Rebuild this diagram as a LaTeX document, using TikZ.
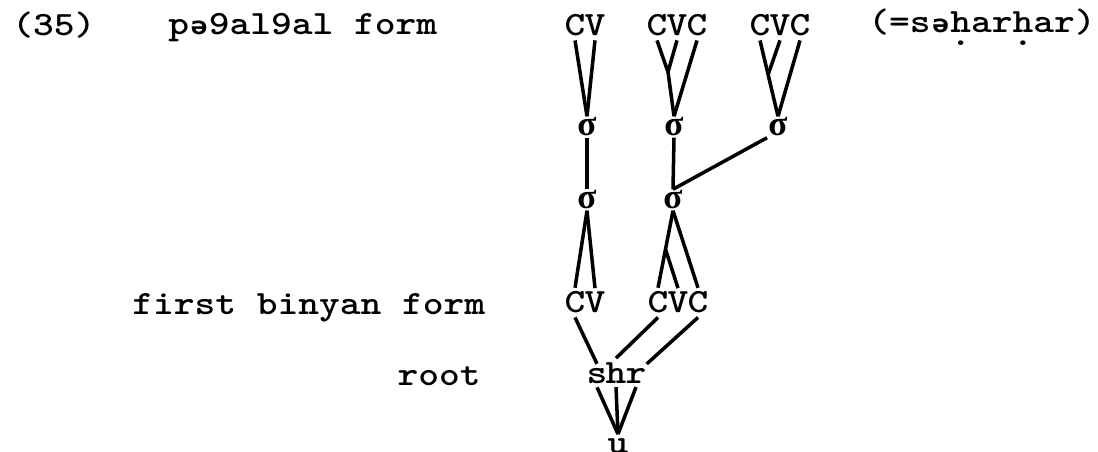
\documentclass[tikz,border=0pt]{standalone}
\usepackage{fontspec}
\newfontfamily\ipafont{DejaVu Sans Mono}
\newfontfamily\sigfont{Liberation Serif}
\usetikzlibrary{calc}
\newcommand{\schwa}{\makebox[0.5em]{\ipafont\fontsize{16}{18}\selectfont ə}}
\newcommand{\hdot}{\ooalign{h\crcr\hidewidth\raisebox{-0.36em}{.}\hidewidth}}

\begin{document}
\begin{tikzpicture}[
    x=0.02cm,
    y=-0.02cm,
    every node/.style={font=\fontsize{22.5}{26}\selectfont\ttfamily\bfseries},
    word/.style={inner sep=0pt, anchor=base west, yscale=0.86},
    seg/.style={inner xsep=0pt, inner ysep=2.5pt, anchor=base, yscale=0.86},
    syl/.style={font=\fontsize{20}{22}\selectfont\sigfont\bfseries, inner sep=0.6pt},
    branch/.style={line width=2pt}
]
\useasboundingbox (0,0) rectangle (1098,452);

\node[word] (ex) at (12,36) {(35)};
\node[word] (redup) at (168,35) {p\schwa 9al9al form};
\node[word, anchor=base east] (gloss) at (1096,33) {(=s\schwa\hdot ar\hdot ar)};
\node[word] (binyan) at (132,315) {first binyan form};
\node[word, anchor=base east] (rootlbl) at (481,385) {root};

\node[seg] (c1) at (575,36) {C};
\node[seg] (v1) at (595,36) {V};
\node[seg] (c2) at (657,36) {C};
\node[seg] (v2) at (677,36) {V};
\node[seg] (c3) at (697,36) {C};
\node[seg] (c4) at (760,36) {C};
\node[seg] (v3) at (780,36) {V};
\node[seg] (c5) at (800,36) {C};

\node[syl] (s1) at (587,127) {σ};
\node[syl] (s2) at (674,127) {σ};
\node[syl] (s3) at (778,127) {σ};
\node[syl] (t1) at (587,200) {σ};
\node[syl] (t2) at (673,200) {σ};

\node[seg] (lc1) at (575,313) {C};
\node[seg] (lv1) at (595,313) {V};
\node[seg] (lc2) at (658,313) {C};
\node[seg] (lv2) at (678,313) {V};
\node[seg] (lc3) at (698,313) {C};

\node[seg] (rs) at (597,383) {s};
\node[seg] (rh) at (616,383) {h};
\node[seg] (rr) at (636,383) {r};
\node[seg] (u) at (618,453) {u};

\coordinate (j1) at (668,72);
\coordinate (j2) at ($(c4.south)!0.45!(s3.north)$);
\coordinate (j3) at ($(t2.south)!0.5!(lc2.north)$);

\draw[branch] (c1.south) -- (s1.north);
\draw[branch] (v1.south) -- (s1.north);
\draw[branch] (c2.south) -- (j1);
\draw[branch] (v2.south) -- (j1);
\draw[branch] (j1) -- (s2.north);
\draw[branch] (c3.south) -- (s2.north);
\draw[branch] (c4.south) -- (s3.north);
\draw[branch] (v3.south) -- (j2);
\draw[branch] (c5.south) -- (s3.north);

\draw[branch] (s1.south) -- (t1.north);
\draw[branch] (s2.south) -- (t2.north);
\draw[branch] (s3.south west) -- (t2.north);

\draw[branch] (t1.south) -- (lc1.north);
\draw[branch] (t1.south) -- (lv1.north);
\draw[branch] (t2.south) -- (lc2.north);
\draw[branch] (t2.south) -- (lc3.north);
\draw[branch] (j3) -- (lv2.north);

\draw[branch] (lc1.south) -- (rs.north);
\draw[branch] (lc2.south) -- (rh.north);
\draw[branch] (lc3.south) -- (rr.north east);

\draw[branch] (rs.south) -- (u.north);
\draw[branch] (rh.south) -- (u.north);
\draw[branch] (rr.south) -- (u.north);
\end{tikzpicture}
\end{document}
